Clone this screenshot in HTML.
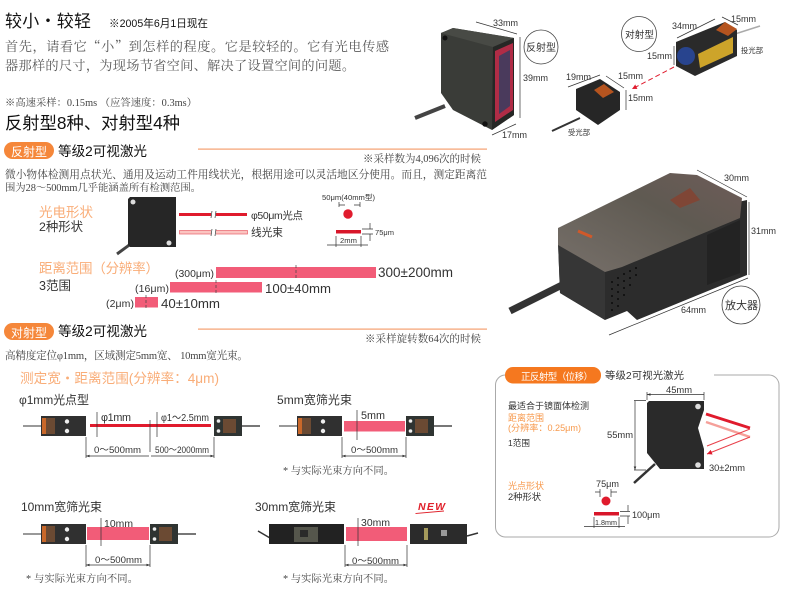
<!DOCTYPE html>
<html><head><meta charset="utf-8">
<style>
html,body{margin:0;padding:0;background:#fff;width:790px;height:592px;overflow:hidden}
svg{display:block}
text{font-family:"Liberation Sans","Noto Sans CJK SC",sans-serif;fill:#333}
.s{font-family:"Liberation Serif","Noto Serif CJK SC",serif;fill:#444}
.p{font-family:"Noto Serif CJK SC",serif;fill:#5a5a5a}
.o{fill:#f9ad78}
.d{stroke:#333;stroke-width:.7;fill:none}
.k{fill:#111}
</style></head><body>
<svg width="790" height="592" viewBox="0 0 790 592" xmlns="http://www.w3.org/2000/svg">
<defs>
<marker id="a" viewBox="0 0 6 6" refX="6" refY="3" markerWidth="5" markerHeight="5" orient="auto-start-reverse"><path d="M0 .8L6 3L0 5.2z" fill="#333"/></marker>
<marker id="r" viewBox="0 0 6 6" refX="6" refY="3" markerWidth="5" markerHeight="5" orient="auto"><path d="M0 0L6 3L0 6z" fill="#e01b2d"/></marker>
<linearGradient id="top" x1="0" x2="1" y1="1" y2="0"><stop offset="0" stop-color="#77706a"/><stop offset=".6" stop-color="#5f5a52"/><stop offset="1" stop-color="#6e5c58"/></linearGradient>
<g id="sl">
<rect x="-18" y="9" width="20" height="2" fill="#999"/>
<rect x="0" y="0" width="45" height="20" fill="#303030"/>
<rect x="1" y="2" width="13" height="16" fill="#6b4a33"/><rect x="1" y="2" width="4" height="16" fill="#c9682a"/>
<circle cx="26" cy="5.5" r="2.2" fill="#eee"/><circle cx="26" cy="15" r="2.2" fill="#eee"/>
</g>
<g id="sr">
<rect x="26" y="9" width="20" height="2" fill="#777"/>
<rect x="0" y="0" width="28" height="20" fill="#2f3432"/>
<rect x="9" y="3" width="13" height="14" fill="#6b4a33"/>
<circle cx="4.5" cy="5" r="1.8" fill="#eee"/><circle cx="4.5" cy="15" r="1.8" fill="#eee"/>
</g>
</defs>

<!-- header -->
<text x="5" y="27" font-size="17" textLength="86" class="k">较小・较轻</text>
<text x="109" y="27" font-size="10.600" textLength="99" class="k">※2005年6月1日现在</text>
<text x="5" y="51" font-size="13.200" textLength="384" class="p">首先，请看它“小”到怎样的程度。它是较轻的。它有光电传感</text>
<text x="5" y="70" font-size="13.200" textLength="350" class="p">器那样的尺寸，为现场节省空间、解决了设置空间的问题。</text>
<text x="5" y="106" font-size="10.300" textLength="192" class="s">※高速采样：0.15ms （应答速度：0.3ms）</text>
<text x="5" y="129" font-size="17.300" textLength="175" class="k">反射型8种、对射型4种</text>

<!-- reflective section -->
<rect x="4" y="142" width="50" height="17" rx="8.500" fill="#f5873a"/>
<text x="11" y="156" font-size="12" textLength="36" style="fill:#fff">反射型</text>
<text x="58" y="156" font-size="13.600" textLength="89" class="k">等级2可视激光</text>
<rect x="198" y="148.500" width="289" height="1.200" fill="#f5a070"/>
<text x="363" y="162" font-size="10.500" textLength="118" class="s">※采样数为4,096次的时候</text>
<text x="5" y="178" font-size="10.700" textLength="482" class="s">微小物体检测用点状光、通用及运动工件用线状光，根据用途可以灵活地区分使用。而且，测定距离范</text>
<text x="5" y="191" font-size="10.400" textLength="196" class="s">围为28～500mm几乎能涵盖所有检测范围。</text>

<text x="39" y="217" font-size="13.500" textLength="54" class="o">光电形状</text>
<text x="39" y="231" font-size="12.400" textLength="44">2种形状</text>
<path d="M132 243L117 254" stroke="#444" stroke-width="3" fill="none"/>
<path d="M128 199L130 197H176V247H130L128 245z" fill="#262626"/>
<circle cx="133" cy="202" r="2.500" fill="#ddd"/><circle cx="169" cy="243" r="2.500" fill="#ddd"/>
<rect x="179" y="213" width="68" height="3" fill="#e01b2d"/>
<rect x="179.500" y="230.500" width="68" height="3.500" fill="#fbc4c0" stroke="#e8606a" stroke-width=".7"/>
<rect x="211" y="211" width="5" height="7" fill="#fff"/><rect x="211" y="229" width="5" height="7" fill="#fff"/>
<path class="d" d="M212 211L211 218M216 211L215 218M212 229L211 236M216 229L215 236"/>
<text x="251" y="219" font-size="10.500" textLength="52">φ50μm光点</text>
<text x="251" y="236" font-size="10.700" textLength="32">线光束</text>
<text x="322" y="200" font-size="7.600" textLength="53">50μm(40mm型)</text>
<path class="d" d="M339 202V207M360 202V207M339 205H345M354 205H360"/>
<circle cx="348" cy="214" r="4.700" fill="#e01b2d"/>
<rect x="336" y="230" width="25" height="3.500" fill="#d8162a"/>
<path class="d" d="M362 229H373M362 234H373M370 223V229M370 234V241M336 236V247M361 236V247M327 245H368"/>
<text x="340" y="243" font-size="7.600" textLength="17">2mm</text>
<text x="375" y="235" font-size="7.500" textLength="19">75μm</text>

<text x="39" y="273" font-size="13.500" textLength="120" class="o">距离范围（分辨率）</text>
<text x="39" y="290" font-size="12.500" textLength="32">3范围</text>
<rect x="216" y="267" width="160" height="11" fill="#f25c78"/>
<rect x="170" y="282" width="92" height="10.500" fill="#f25c78"/>
<rect x="135" y="297" width="23" height="10.500" fill="#f25c78"/>
<path d="M296 265V280M216 280V295M146 295V310" stroke="#444" stroke-width=".7" stroke-dasharray="3 2" fill="none"/>
<text x="175" y="277" font-size="10.400" textLength="39">(300μm)</text>
<text x="135" y="292" font-size="10.500" textLength="34">(16μm)</text>
<text x="106" y="307" font-size="10.500" textLength="28">(2μm)</text>
<text x="378" y="277" font-size="13.500" textLength="75">300±200mm</text>
<text x="265" y="293" font-size="13.200" textLength="66">100±40mm</text>
<text x="161" y="308" font-size="13.300" textLength="59">40±10mm</text>

<!-- through-beam -->
<rect x="4" y="323" width="50" height="17" rx="8.500" fill="#f5873a"/>
<text x="11" y="337" font-size="12" textLength="36" style="fill:#fff">对射型</text>
<text x="58" y="336" font-size="13.600" textLength="89" class="k">等级2可视激光</text>
<rect x="198" y="328.500" width="289" height="1.200" fill="#f5a070"/>
<text x="365" y="342" font-size="10.500" textLength="116" class="s">※采样旋转数64次的时候</text>
<text x="5" y="359" font-size="10.600" textLength="243" class="s">高精度定位φ1mm，区域测定5mm宽、 10mm宽光束。</text>
<text x="20" y="383" font-size="13.600" textLength="199" class="o">测定宽・距离范围(分辨率：4μm)</text>

<!-- 1mm -->
<text x="19" y="404" font-size="12" textLength="70">φ1mm光点型</text>
<use href="#sl" x="41" y="416"/><use href="#sr" x="214" y="416"/>
<rect x="90" y="424" width="121" height="3" fill="#e01b2d"/>
<path class="d" d="M97 412V437M157 412V437M150 420V452M86 437V458M214 437V458"/>
<path class="d" d="M86 456H149M151 456H214" marker-start="url(#a)" marker-end="url(#a)"/>
<text x="101" y="421" font-size="10.800" textLength="30">φ1mm</text>
<text x="161" y="421" font-size="10.500" textLength="48" lengthAdjust="spacingAndGlyphs">φ1～2.5mm</text>
<text x="94" y="453" font-size="9.600" textLength="47">0～500mm</text>
<text x="155" y="453" font-size="9.600" textLength="54" lengthAdjust="spacingAndGlyphs">500～2000mm</text>

<!-- 5mm -->
<text x="277" y="404" font-size="12" textLength="75">5mm宽筛光束</text>
<use href="#sl" x="297" y="416"/><use href="#sr" x="406" y="416"/>
<rect x="344" y="421" width="61" height="10.500" fill="#f25c78"/>
<path class="d" d="M357 410V440M342 437V458M406 437V458"/>
<path class="d" d="M342 456H406" marker-start="url(#a)" marker-end="url(#a)"/>
<text x="361" y="419" font-size="10.800" textLength="24">5mm</text>
<text x="351" y="453" font-size="9.600" textLength="47">0～500mm</text>
<text x="283" y="474" font-size="10.300" textLength="111" class="s">* 与实际光束方向不同。</text>

<!-- 10mm -->
<text x="21" y="511" font-size="12" textLength="81">10mm宽筛光束</text>
<use href="#sl" x="41" y="524"/><use href="#sr" x="150" y="524"/>
<rect x="87" y="527" width="62" height="13" fill="#f25c78"/>
<path class="d" d="M101 518V546M86 545V567M150 545V567"/>
<path class="d" d="M86 565H150" marker-start="url(#a)" marker-end="url(#a)"/>
<text x="104" y="527" font-size="10.400" textLength="29">10mm</text>
<text x="95" y="563" font-size="9.600" textLength="47">0～500mm</text>
<text x="26" y="582" font-size="10.300" textLength="112" class="s">* 与实际光束方向不同。</text>

<!-- 30mm -->
<text x="255" y="511" font-size="12" textLength="81">30mm宽筛光束</text>
<path d="M258 531L270 538M467 536L478 533" stroke="#333" stroke-width="1.500" fill="none"/>
<rect x="269" y="524" width="75" height="20" fill="#222"/>
<rect x="294" y="527" width="24" height="15" fill="#55564c"/><rect x="300" y="530" width="8" height="7" fill="#2a2a2a"/>
<rect x="410" y="524" width="57" height="20" fill="#2b2b2b"/>
<rect x="424" y="528" width="4" height="12" fill="#a49a5c"/><rect x="441" y="530" width="6" height="6" fill="#999"/>
<rect x="346" y="527" width="61" height="14" fill="#f25c78"/>
<path class="d" d="M358 518V546M345 545V567M407 545V567"/>
<path class="d" d="M345 565H407" marker-start="url(#a)" marker-end="url(#a)"/>
<text x="361" y="526" font-size="10.400" textLength="29">30mm</text>
<text x="352" y="564" font-size="9.600" textLength="47">0～500mm</text>
<text x="283" y="582" font-size="10.300" textLength="111" class="s">* 与实际光束方向不同。</text>
<text x="418" y="510" font-size="10.500" font-weight="bold" font-style="italic" textLength="27" style="fill:#e0202a">NEW</text>
<path d="M416 513L444 510.500V511.500L415 514z" fill="#e0202a"/>

<!-- reflective photo -->
<path d="M445 106L415 118" stroke="#444" stroke-width="4" fill="none"/>
<path d="M441 33L453 28L514 38V115L492 130L453 110L441 93z" fill="#3a3c38"/>
<path d="M441 33L453 28L514 38L493 47z" fill="#484a45"/>
<path d="M493 47L514 38V115L492 130z" fill="#262725"/>
<path d="M495 51L513 43V110L495 122z" fill="#b02c46"/><path d="M499 56L510 50V106L499 114z" fill="#4a3a5c"/>
<circle cx="445" cy="38" r="2.500" fill="#111"/><circle cx="485" cy="124" r="2.700" fill="#111"/>
<path class="d" d="M476 22L517 34M520 37V118M492 135L516 124"/>
<text x="493" y="26" font-size="9" textLength="25">33mm</text>
<text x="523" y="81" font-size="9" textLength="25">39mm</text>
<text x="502" y="138" font-size="9" textLength="25">17mm</text>
<circle cx="541" cy="47" r="17" fill="#fff" stroke="#444" stroke-width=".8"/>
<text x="526" y="51" font-size="10" textLength="30">反射型</text>

<!-- through-beam photos -->
<circle cx="639" cy="34" r="17.500" fill="#fff" stroke="#444" stroke-width=".8"/>
<text x="625" y="38" font-size="9.700" textLength="29">对射型</text>
<path d="M735 34L760 26" stroke="#aaa" stroke-width="1.500" fill="none"/>
<path d="M676 42L725 22L737 30V56L695 76L676 66z" fill="#2a2a2a"/>
<path d="M716 30L725 22L737 29L728 36z" fill="#b5541f"/>
<circle cx="686" cy="56" r="9" fill="#28448e"/>
<path d="M698 54L733 37V53L700 68z" fill="#cda42a"/>
<path class="d" d="M677 38L715 19M722 17L738 25M674 46V65"/>
<text x="672" y="29" font-size="9" textLength="25">34mm</text>
<text x="731" y="22" font-size="9" textLength="25">15mm</text>
<text x="647" y="59" font-size="9" textLength="25">15mm</text>
<text x="741" y="53" font-size="7.300" textLength="22">投光部</text>
<path d="M674 67L632 89" stroke="#e01b2d" stroke-width="1" stroke-dasharray="5 3" fill="none" marker-end="url(#r)"/>
<path d="M580 118L552 131" stroke="#333" stroke-width="2" fill="none"/>
<path d="M576 89L600 79L620 92V110L598 125L576 110z" fill="#262626"/>
<path d="M594 90L604 84L614 92L603 98z" fill="#b5541f"/>
<path class="d" d="M568 87L600 75M606 76L624 88M626 90V110"/>
<text x="566" y="80" font-size="9" textLength="25">19mm</text>
<text x="618" y="79" font-size="9" textLength="25">15mm</text>
<text x="628" y="101" font-size="9" textLength="25">15mm</text>
<text x="568" y="135" font-size="7.300" textLength="22">受光部</text>

<!-- amplifier photo -->
<path d="M566 283L510 311" stroke="#333" stroke-width="7" fill="none"/>
<path d="M558 242L747 200V275L637 320L627 311L605 320L560 293z" fill="#2c2c2c"/>
<path d="M558 242L605 270V320L560 293z" fill="#363636"/>
<path d="M558 228L670 173L697 175L742 198L740 218L622 267L605 272L558 245z" fill="url(#top)"/>
<path d="M670 200L690 188L700 200L680 208z" fill="#7f4636"/>
<path d="M578 231L592 237" stroke="#d0592a" stroke-width="3" fill="none"/>
<path d="M707 235L740 220V273L707 285z" fill="#232323"/>
<g fill="#0c0c0c">
<circle cx="612" cy="282" r="1"/><circle cx="618" cy="278" r="1"/><circle cx="624" cy="274" r="1"/><circle cx="630" cy="271" r="1"/><circle cx="636" cy="268" r="1"/><circle cx="612" cy="289" r="1"/><circle cx="618" cy="285" r="1"/><circle cx="624" cy="281" r="1"/><circle cx="630" cy="278" r="1"/><circle cx="636" cy="275" r="1"/><circle cx="612" cy="296" r="1"/><circle cx="618" cy="292" r="1"/><circle cx="624" cy="288" r="1"/><circle cx="630" cy="285" r="1"/><circle cx="612" cy="303" r="1"/><circle cx="618" cy="299" r="1"/><circle cx="624" cy="295" r="1"/><circle cx="612" cy="310" r="1"/><circle cx="618" cy="306" r="1"/>
</g>
<path class="d" d="M697 170L747 197M749 202V275M609 335L748 278"/>
<text x="724" y="181" font-size="9" textLength="25">30mm</text>
<text x="751" y="234" font-size="9" textLength="25">31mm</text>
<text x="681" y="313" font-size="9" textLength="25">64mm</text>
<circle cx="741" cy="305" r="19" fill="#fff" stroke="#444" stroke-width=".8"/>
<text x="725" y="309" font-size="11" textLength="33">放大器</text>

<!-- right panel -->
<path d="M505 375A10 10 0 0 0 495.500 385V527A10 10 0 0 0 505 537H769A10 10 0 0 0 779 527V385A10 10 0 0 0 769 375H714" fill="none" stroke="#aaa" stroke-width="1"/>
<rect x="505" y="367" width="96" height="16.500" rx="8" fill="#f5781f"/>
<text x="521" y="380" font-size="9.500" textLength="72" style="fill:#fff">正反射型（位移）</text>
<text x="605" y="379" font-size="10.400" textLength="79">等级2可视光激光</text>
<text x="508" y="409" font-size="9" textLength="81">最适合于镜面体检测</text>
<text x="508" y="421" font-size="9" textLength="36" style="fill:#f79a4e">距离范围</text>
<text x="508" y="431" font-size="9.100" textLength="73" style="fill:#f79a4e">(分辨率：0.25μm)</text>
<text x="508" y="446" font-size="8.600" textLength="22">1范围</text>
<text x="508" y="489" font-size="9" textLength="36" style="fill:#f79a4e">光点形状</text>
<text x="508" y="500" font-size="9.300" textLength="33">2种形状</text>
<path d="M655 464L634 483" stroke="#333" stroke-width="2.500" fill="none"/>
<path d="M649 401H704V410L698 428L704 449V469H660L647 453V403z" fill="#2a2a2a"/>
<circle cx="698" cy="406.500" r="2.800" fill="#ddd"/><circle cx="698" cy="465" r="2.800" fill="#ddd"/>
<path d="M706 414L750 428" stroke="#e01b2d" stroke-width="2.800" fill="none"/>
<path d="M706 422L750 437" stroke="#f5a09a" stroke-width="2.500" fill="none"/>
<path d="M750 429L707 446M750 437L707 454" stroke="#e8404a" stroke-width="1" fill="none" marker-end="url(#r)"/>
<path class="d" d="M647 392V400M704 392V400M634 400.500H646M634 470H646"/>
<path class="d" d="M647 394.500H704M635 401V470" marker-start="url(#a)" marker-end="url(#a)"/>
<text x="666" y="393" font-size="9.400" textLength="26">45mm</text>
<text x="607" y="438" font-size="9.400" textLength="26">55mm</text>
<text x="709" y="471" font-size="9.300" textLength="36">30±2mm</text>
<text x="596" y="487" font-size="9.100" textLength="23">75μm</text>
<path class="d" d="M600 489V497M611 489V497M595 492H600M611 492H617"/>
<circle cx="606" cy="501" r="4.500" fill="#e01b2d"/>
<rect x="594" y="512" width="25" height="3.500" fill="#d8162a"/>
<path class="d" d="M620 511.500H630M620 516H630M628 505V511M628 516V524M594 517V528M619 517V528M584 526.500H625"/>
<text x="632" y="518" font-size="9.100" textLength="28">100μm</text>
<text x="595" y="525" font-size="7.200" textLength="22">1.8mm</text>
</svg>
</body></html>
